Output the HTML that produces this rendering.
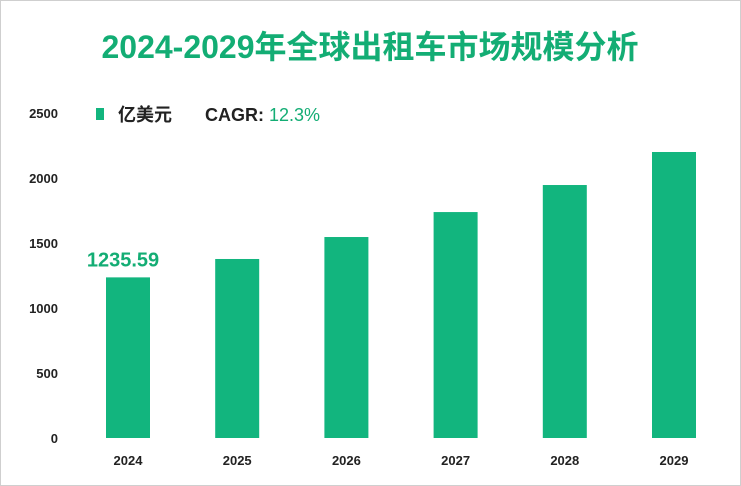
<!DOCTYPE html>
<html><head><meta charset="utf-8"><style>
body{margin:0;background:#fff}
svg{display:block;font-family:"Liberation Sans","Noto Sans CJK SC",sans-serif}
</style></head><body>
<svg id="c" width="741" height="486">
<rect x="0.5" y="0.5" width="740" height="485" fill="#fff" stroke="#cfcfcf"/>
<text x="370" y="58" text-anchor="middle" font-size="32" font-weight="bold" fill="#13ad74">2024-2029年全球出租车市场规模分析</text>
<rect x="96" y="108" width="8" height="12" fill="#12b57e"/>
<text x="118" y="121" font-size="18" font-weight="bold" fill="#222">亿美元</text>
<text x="205" y="121" font-size="18" font-weight="bold" fill="#222">CAGR: <tspan fill="#13ad74" font-weight="normal">12.3%</tspan></text>
<g id="yaxis"></g><g id="bars"></g><g id="xaxis"></g>
</svg>
<script>
const categories=["2024","2025","2026","2027","2028","2029"];
const values=[1235.59,1377,1546,1738,1946,2200];
const yTicks=[0,500,1000,1500,2000,2500];
const valueLabels=["1235.59","","","","",""];
const ns="http://www.w3.org/2000/svg";
const y0=438,yTop=113,yMax=2500;
function y(v){return y0-(v/yMax)*(y0-yTop);}
function x(i){return 128+i*109.2;}
function mk(t,a,txt){const e=document.createElementNS(ns,t);for(const k in a)e.setAttribute(k,a[k]);if(txt!==undefined)e.textContent=txt;return e;}
yTicks.forEach(t=>{const e=mk('text',{x:58,y:y(t)+5,'text-anchor':'end','font-size':13,'font-weight':'bold',fill:'#222'},t);


document.getElementById('yaxis').appendChild(e);});
categories.forEach((c,i)=>{
const r=mk('rect',{x:x(i)-22,y:y(values[i]),width:44,height:y0-y(values[i]),fill:'#12b57e'});


document.getElementById('bars').appendChild(r);
const l=mk('text',{x:x(i),y:465,'text-anchor':'middle','font-size':13,'font-weight':'bold',fill:'#222'},c);


document.getElementById('xaxis').appendChild(l);
if(valueLabels[i]){const v=mk('text',{x:x(i)-5,y:y(values[i])-11,'text-anchor':'middle','font-size':20,'font-weight':'bold',fill:'#13ad74'},valueLabels[i]);


document.getElementById('bars').appendChild(v);}
});
</script>
</body></html>
